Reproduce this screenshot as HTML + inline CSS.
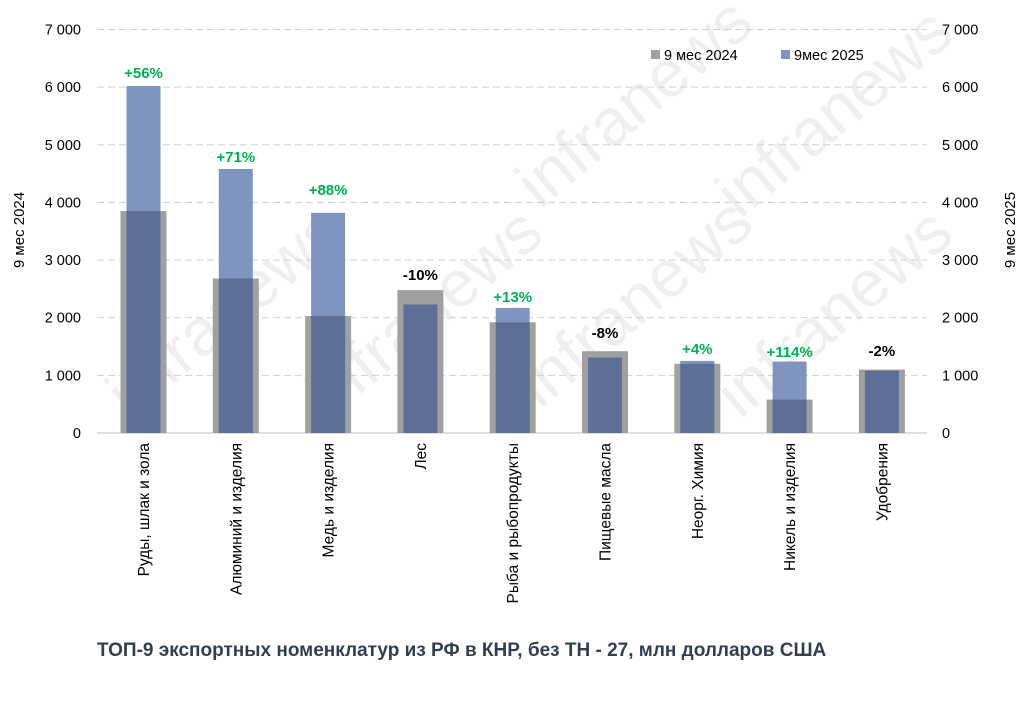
<!DOCTYPE html><html><head><meta charset="utf-8"><style>body{margin:0;background:#fff}svg{display:block}</style></head><body>
<svg width="1024" height="718" xmlns="http://www.w3.org/2000/svg" font-family="Liberation Sans, sans-serif">
<g font-size="66" fill="#efefef">
<text transform="translate(130,420) rotate(-40)">infranews</text>
<text transform="translate(330,420) rotate(-40)">infranews</text>
<text transform="translate(540,410) rotate(-40)">infranews</text>
<text transform="translate(740,420) rotate(-40)">infranews</text>
<text transform="translate(540,210) rotate(-40)">infranews</text>
<text transform="translate(740,220) rotate(-40)">infranews</text>
</g>
<g stroke="#d0d0d0" stroke-dasharray="7,4" stroke-width="1">
<line x1="97" x2="927" y1="375.4" y2="375.4"/><line x1="97" x2="927" y1="317.7" y2="317.7"/>
<line x1="97" x2="927" y1="260.1" y2="260.1"/><line x1="97" x2="927" y1="202.4" y2="202.4"/>
<line x1="97" x2="927" y1="144.8" y2="144.8"/><line x1="97" x2="927" y1="87.1" y2="87.1"/>
<line x1="97" x2="927" y1="29.5" y2="29.5"/>
</g>
<line x1="97" x2="927" y1="433" y2="433" stroke="#bfbfbf"/>
<g fill="#a0a0a0">
<rect x="120.5" y="211.1" width="46" height="221.9"/>
<rect x="212.8" y="278.5" width="46" height="154.5"/>
<rect x="305.1" y="316" width="46" height="117"/>
<rect x="397.4" y="290.1" width="46" height="142.9"/>
<rect x="489.7" y="322.3" width="46" height="110.7"/>
<rect x="582" y="351.2" width="46" height="81.8"/>
<rect x="674.3" y="363.8" width="46" height="69.2"/>
<rect x="766.6" y="399.6" width="46" height="33.4"/>
<rect x="858.9" y="369.6" width="46" height="63.4"/>
</g>
<g fill="#7f95c0">
<rect x="126.5" y="86" width="34" height="347"/>
<rect x="218.8" y="169" width="34" height="264"/>
<rect x="311.1" y="212.8" width="34" height="220.2"/>
<rect x="495.7" y="307.9" width="34" height="125.1"/>
<rect x="680.3" y="360.9" width="34" height="72.1"/>
<rect x="772.6" y="361.5" width="34" height="71.5"/>
</g>
<g fill="#5d6f96">
<rect x="126.5" y="211.1" width="34" height="221.9"/>
<rect x="218.8" y="278.5" width="34" height="154.5"/>
<rect x="311.1" y="316" width="34" height="117"/>
<rect x="403.4" y="304.5" width="34" height="128.5"/>
<rect x="495.7" y="322.3" width="34" height="110.7"/>
<rect x="588" y="357.5" width="34" height="75.5"/>
<rect x="680.3" y="363.8" width="34" height="69.2"/>
<rect x="772.6" y="399.6" width="34" height="33.4"/>
<rect x="864.9" y="370.7" width="34" height="62.3"/>
</g>
<g font-size="15" font-weight="bold" text-anchor="middle" fill="#00b050">
<text x="143.5" y="78">+56%</text>
<text x="235.8" y="162">+71%</text>
<text x="328.1" y="195">+88%</text>
<text x="420.4" y="280" fill="#000">-10%</text>
<text x="512.7" y="302">+13%</text>
<text x="605" y="338" fill="#000">-8%</text>
<text x="697.3" y="354">+4%</text>
<text x="789.6" y="357">+114%</text>
<text x="881.9" y="356" fill="#000">-2%</text>
</g>
<g font-size="15.5" text-anchor="end">
<text transform="translate(149,443) rotate(-90)">Руды, шлак и зола</text>
<text transform="translate(241.3,443) rotate(-90)">Алюминий и изделия</text>
<text transform="translate(333.6,443) rotate(-90)">Медь и изделия</text>
<text transform="translate(425.9,443) rotate(-90)">Лес</text>
<text transform="translate(518.2,443) rotate(-90)">Рыба и рыбопродукты</text>
<text transform="translate(610.5,443) rotate(-90)">Пищевые масла</text>
<text transform="translate(702.8,443) rotate(-90)">Неорг. Химия</text>
<text transform="translate(795.1,443) rotate(-90)">Никель и изделия</text>
<text transform="translate(887.4,443) rotate(-90)">Удобрения</text>
</g>
<g font-size="14.5" text-anchor="end">
<text x="81" y="438">0</text><text x="81" y="380.4">1 000</text><text x="81" y="322.7">2 000</text>
<text x="81" y="265.1">3 000</text><text x="81" y="207.4">4 000</text><text x="81" y="149.8">5 000</text>
<text x="81" y="92.1">6 000</text><text x="81" y="34.5">7 000</text>
</g>
<g font-size="14.5">
<text x="942" y="438">0</text><text x="942" y="380.4">1 000</text><text x="942" y="322.7">2 000</text>
<text x="942" y="265.1">3 000</text><text x="942" y="207.4">4 000</text><text x="942" y="149.8">5 000</text>
<text x="942" y="92.1">6 000</text><text x="942" y="34.5">7 000</text>
</g>
<text transform="translate(24,230) rotate(-90)" font-size="15" text-anchor="middle">9 мес 2024</text>
<text transform="translate(1015,230) rotate(-90)" font-size="15" text-anchor="middle">9 мес 2025</text>
<rect x="651" y="50" width="9" height="9" fill="#a0a0a0"/><text x="664" y="60" font-size="14.5">9 мес 2024</text>
<rect x="781" y="50" width="9" height="9" fill="#7f95c0"/><text x="794" y="60" font-size="14.5">9мес 2025</text>
<text x="97" y="656" font-size="19" font-weight="bold" fill="#333f50">ТОП-9 экспортных номенклатур из РФ в КНР, без ТН - 27, млн долларов США</text>
</svg></body></html>
